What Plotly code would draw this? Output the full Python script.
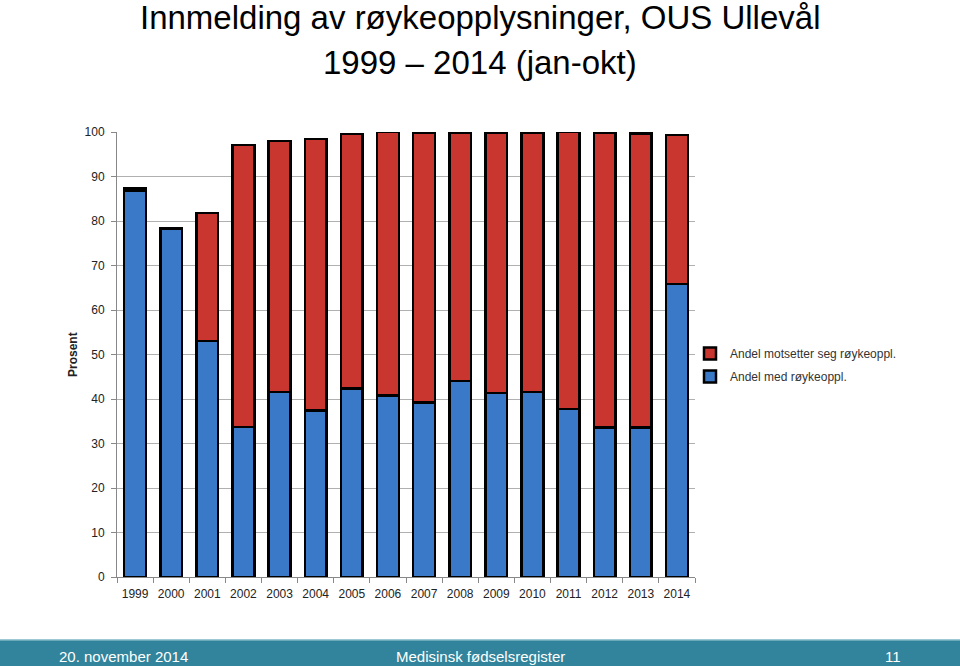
import plotly.graph_objects as go

years = ["1999", "2000", "2001", "2002", "2003", "2004", "2005", "2006",
         "2007", "2008", "2009", "2010", "2011", "2012", "2013", "2014"]
med_royk = [86.8, 78.3, 53.0, 33.7, 41.6, 37.4, 42.4, 40.8,
            39.2, 44.1, 41.3, 41.6, 37.8, 33.6, 33.6, 65.8]
motsetter = [0.6, 0.1, 28.8, 63.4, 56.4, 61.0, 57.2, 59.2,
             60.6, 55.7, 58.5, 58.2, 62.2, 66.2, 66.1, 33.5]

title1 = "Innmelding av røykeopplysninger, OUS Ullevål"
title2 = "1999 – 2014 (jan-okt)"
footer_left = "20. november 2014"
footer_mid = "Medisinsk fødselsregister"
footer_right = "11"

W, H = 960, 666
L, R, T, B = 117, 695, 132, 577
pw, ph = R - L, B - T

def px(x):
    return (x - L) / pw

def py(y):
    return (B - y) / ph

fig = go.Figure()
fig.add_bar(x=years, y=med_royk, name="Andel med røykeoppl.",
            legendgroup="blue", legendrank=2,
            marker=dict(color="#3A78C8", line=dict(color="black", width=2.5)),
            width=0.6)
fig.add_bar(x=years, y=motsetter, name="Andel motsetter seg røykeoppl.",
            legendgroup="red", legendrank=1,
            marker=dict(color="#C8362F", line=dict(color="black", width=2.5)),
            width=0.6)

font = "Liberation Sans, Arial, sans-serif"

fig.update_layout(
    barmode="stack",
    width=W, height=H,
    margin=dict(l=L, r=W - R, t=T, b=H - B, pad=0),
    plot_bgcolor="white", paper_bgcolor="white",
    font=dict(family=font, size=12, color="#222"),
    showlegend=True,
    legend=dict(x=px(690), y=py(339), xanchor="left", yanchor="top",
                traceorder="grouped", font=dict(size=12, color="#333"),
                itemwidth=30, tracegroupgap=4, bgcolor="rgba(0,0,0,0)"),
)
fig.update_xaxes(type="category", showline=True, linecolor="#888", linewidth=1,
                 ticks="outside", ticklen=5, tickcolor="#888", tickson="boundaries",
                 ticklabelstandoff=6,
                 tickfont=dict(size=12, color="#222"), showgrid=False)
fig.update_yaxes(range=[0, 100], dtick=10, showgrid=True, gridcolor="#B0B0B0",
                 gridwidth=1, showline=True, linecolor="#888", linewidth=1,
                 ticks="outside", ticklen=5, tickcolor="#888",
                 ticklabelstandoff=4,
                 tickfont=dict(size=12, color="#222"), zeroline=False)

shapes = [
    dict(type="rect", xref="paper", yref="paper",
         x0=px(0), x1=px(W), y0=py(H), y1=py(640),
         fillcolor="#31849B", line=dict(width=0), layer="above"),
    dict(type="line", xref="paper", yref="paper",
         x0=px(0), x1=px(W), y0=py(640), y1=py(640),
         line=dict(color="#7FB6C6", width=1.5), layer="above"),
]
fig.update_layout(shapes=shapes)

ann = [
    dict(text=title1, x=px(480), y=py(18), xref="paper", yref="paper",
         showarrow=False, font=dict(size=33, color="black", family=font),
         xanchor="center", yanchor="middle"),
    dict(text=title2, x=px(480), y=py(62), xref="paper", yref="paper",
         showarrow=False, font=dict(size=33, color="black", family=font),
         xanchor="center", yanchor="middle"),
    dict(text="<b>Prosent</b>", x=px(73), y=py(355), xref="paper", yref="paper",
         showarrow=False, textangle=-90, font=dict(size=12, color="#222"),
         xanchor="center", yanchor="middle"),
    dict(text=footer_left, x=px(57), y=py(656), xref="paper", yref="paper",
         showarrow=False, font=dict(size=15, color="white", family=font),
         xanchor="left", yanchor="middle"),
    dict(text=footer_mid, x=px(480), y=py(656), xref="paper", yref="paper",
         showarrow=False, font=dict(size=15, color="white", family=font),
         xanchor="center", yanchor="middle"),
    dict(text=footer_right, x=px(893), y=py(656), xref="paper", yref="paper",
         showarrow=False, font=dict(size=15, color="white", family=font),
         xanchor="center", yanchor="middle"),
]
fig.update_layout(annotations=ann)

fig.write_html("out.html")
